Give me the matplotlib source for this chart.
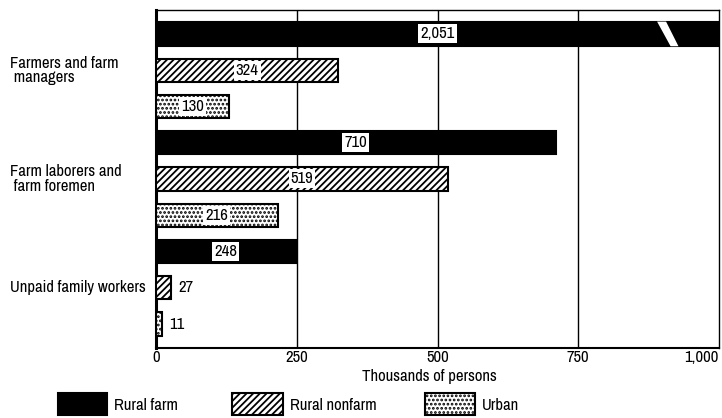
import matplotlib
matplotlib.use("Agg")
import matplotlib.pyplot as plt
from matplotlib.patches import Polygon, Rectangle

plt.rcParams['font.family'] = ['Archivo Narrow', 'DejaVu Sans']
plt.rcParams['hatch.linewidth'] = 1.3

categories = ["Farmers and farm\n managers", "Farm laborers and\n farm foremen", "Unpaid family workers"]
series = ["Rural farm", "Rural nonfarm", "Urban"]
rural_farm = [2051, 710, 248]
rural_nonfarm = [324, 519, 27]
urban = [130, 216, 11]
xticks = [0, 250, 500, 750, 1000]
xticklabels = ["0", "250", "500", "750", "1,000"]
xlabel = "Thousands of persons"
xmax = 1000

styles = [dict(color="black", hatch=None), dict(color="white", hatch="/////"), dict(color="white", hatch="....")]

fig = plt.figure(figsize=(7.22, 4.18), dpi=100)
ax = fig.add_axes([156/722, 1-348/418, 563/722, 338/418])

values = [rural_farm, rural_nonfarm, urban]
h = 0.64
FS = 12
for gi in range(len(categories)):
    for si in range(3):
        pos = gi*3 + si
        v = values[si][gi]
        st = styles[si]
        ax.barh(pos, v, height=h, color=st["color"], edgecolor="black", linewidth=1.5,
                hatch=st["hatch"], zorder=3)
        txt = f"{v:,}"
        if v > 100:
            xc = min(v, xmax) / 2
            ax.text(xc, pos, txt, ha="center", va="center", fontsize=FS, zorder=5,
                    bbox=dict(boxstyle="square,pad=0.12", fc="white", ec="none"))
        else:
            ax.text(v + 12, pos, txt, ha="left", va="center", fontsize=FS, zorder=5)
    ax.text(-0.259, gi*3 + 1, categories[gi], transform=ax.get_yaxis_transform(),
            ha="left", va="center", fontsize=FS, linespacing=0.95)

# break mark on the clipped bar
for gi in range(len(categories)):
    if rural_farm[gi] > xmax:
        y0 = gi*3 - h/2 - 0.02
        y1 = gi*3 + h/2 + 0.02
        poly = Polygon([(0.890*xmax, y0), (0.906*xmax, y0), (0.928*xmax, y1), (0.914*xmax, y1)],
                       closed=True, fc="white", ec="none", zorder=4)
        ax.add_patch(poly)

ax.set_xlim(0, xmax)
ax.set_ylim(8.66, -0.66)
ax.set_yticks([])
ax.set_xticks(xticks)
ax.set_xticklabels(xticklabels, fontsize=FS)
ax.get_xticklabels()[-1].set_ha("right")
ax.tick_params(axis="x", length=0, pad=1.5)
for x in xticks[1:-1]:
    ax.axvline(x, color="black", lw=1.0, zorder=1)
for s in ["top", "right"]:
    ax.spines[s].set_linewidth(1.0)
ax.spines["left"].set_linewidth(2.2)
ax.spines["bottom"].set_linewidth(1.5)
ax.text(362/722, 1-376/418, xlabel, transform=fig.transFigure, ha="left", va="center", fontsize=FS)

# legend
leg_x = [58, 232, 425]
leg_w = [49, 51, 50]
for i, name in enumerate(series):
    st = styles[i]
    r = Rectangle((leg_x[i]/722, 1-415/418), leg_w[i]/722, 22/418, transform=fig.transFigure,
                  fc=st["color"], ec="black", lw=1.5, hatch=st["hatch"])
    fig.add_artist(r)
    fig.text((leg_x[i]+leg_w[i]+7)/722, 1-405/418, name, ha="left", va="center", fontsize=FS)

fig.savefig("out.png", dpi=100)
